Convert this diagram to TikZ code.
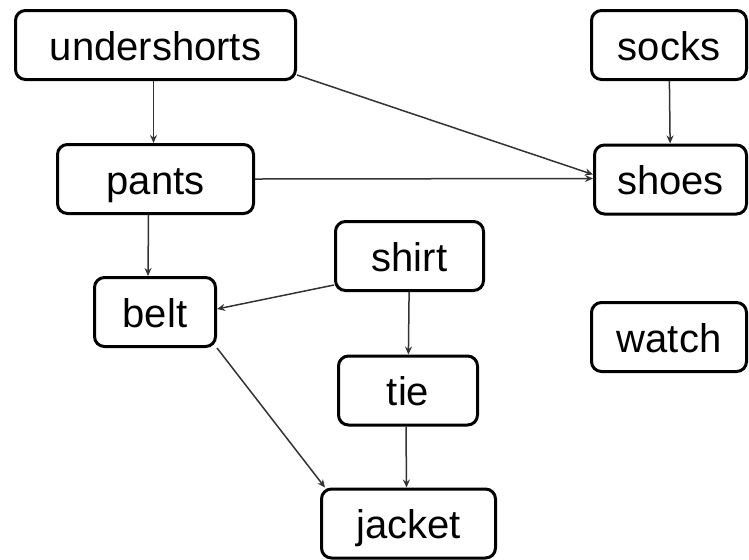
\documentclass[tikz,border=0pt]{standalone}
\usepackage{fontspec}
\setmainfont{Liberation Sans}
\usetikzlibrary{arrows.meta}

\tikzset{
    garment/.style={draw, line width=1.5pt, rounded corners=5pt, inner sep=0pt,
        minimum height=34.5pt, text height=15pt, text depth=0pt,
        font=\fontsize{20}{24}\selectfont},
    dep/.style={-{Stealth[length=4pt, width=3.5pt]}, line width=0.75pt, draw=black!80},
}

\begin{document}
\begin{tikzpicture}[x=0.5pt, y=-0.5pt]
    \useasboundingbox (0, 0) rectangle (749, 559);

    % clothing items
    \node[garment, minimum width=140pt] (undershorts) at (155.5, 45) {undershorts};
    \node[garment, minimum width=77.5pt] (socks) at (669, 45) {socks};
    \node[garment, minimum width=98pt] (pants) at (155.5, 179) {pants};
    \node[garment, minimum width=76pt] (shoes) at (670.5, 179.5) {shoes};
    \node[garment, minimum width=74pt] (shirt) at (409.5, 256) {shirt};
    \node[garment, minimum width=60.5pt] (belt) at (155, 312) {belt};
    \node[garment, minimum width=77.5pt] (watch) at (669, 337) {watch};
    \node[garment, minimum width=69.5pt] (tie) at (408, 390.5) {tie};
    \node[garment, minimum width=87pt] (jacket) at (408.5, 523.5) {jacket};

    % what has to go on first
    \draw[dep] ([xshift=-1pt]undershorts.south) -- ([xshift=-1pt]pants.north);
    \draw[dep] ([yshift=3pt]undershorts.south east) -- ([yshift=2.5pt]shoes.west);
    \draw[dep] (socks) -- (shoes);
    \draw[dep] (pants.east) -- ([yshift=0.5pt]shoes.west);
    \draw[dep] ([xshift=-3.5pt]pants.south) -- ([xshift=-3.5pt]belt.north);
    \draw[dep] ([yshift=3.5pt]shirt.south west) -- ([yshift=1.5pt]belt.east);
    \draw[dep] (shirt) -- (tie);
    \draw[dep] (belt.south east) -- ([xshift=2.5pt]jacket.north west);
    \draw[dep] ([xshift=-1pt]tie.south) -- ([xshift=-1pt]jacket.north);
\end{tikzpicture}
\end{document}
